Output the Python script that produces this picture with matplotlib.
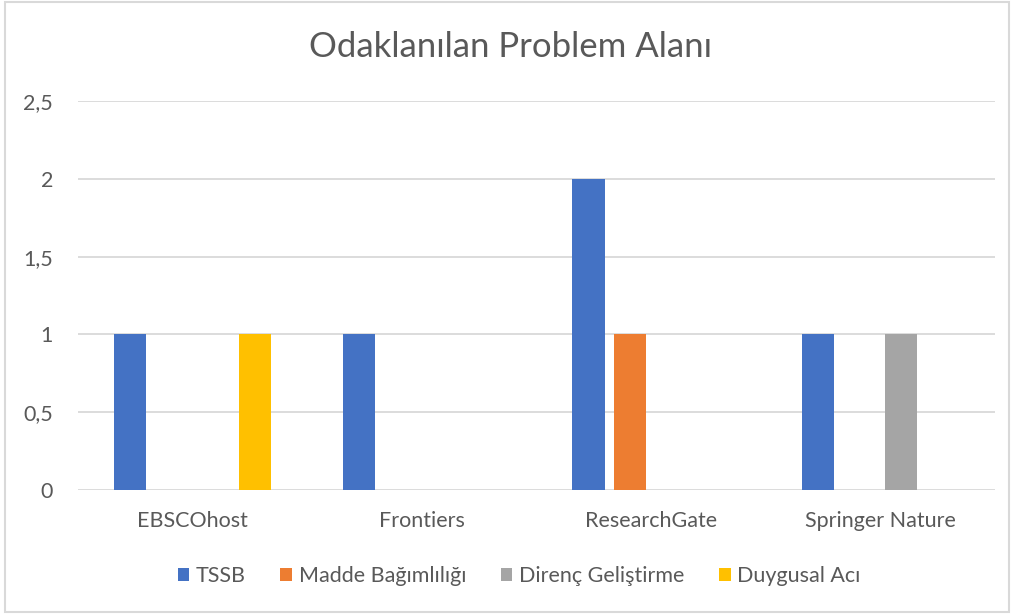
import matplotlib
matplotlib.use("Agg")
import matplotlib.pyplot as plt
from matplotlib.patches import Rectangle, Patch
import numpy as np

categories = ["EBSCOhost", "Frontiers", "ResearchGate", "Springer Nature"]
series_names = ["TSSB", "Madde Bağımlılığı", "Direnç Geliştirme", "Duygusal Acı"]
tssb = [1, 1, 2, 1]
madde = [0, 0, 1, 0]
direnc = [0, 0, 0, 1]
duygusal = [1, 0, 0, 0]
colors = ["#4472C4", "#ED7D31", "#A5A5A5", "#FFC000"]
yticks = [0, 0.5, 1, 1.5, 2, 2.5]
ytick_labels = ["0", "0,5", "1", "1,5", "2", "2,5"]
title = "Odaklanılan Problem Alanı"

plt.rcParams['font.family'] = ['Lato', 'DejaVu Sans']
text_color = "#595959"

fig = plt.figure(figsize=(10.15, 6.16), dpi=100)
ax = fig.add_axes([78/1015, (616-490)/616, (995-78)/1015, (490-101)/616])

x = np.arange(len(categories))
spacing = 0.182
width = 0.14
all_series = [tssb, madde, direnc, duygusal]
for i, (vals, c) in enumerate(zip(all_series, colors)):
    ax.bar(x + (i - 1.5) * spacing, vals, width=width, color=c, zorder=3)

ax.set_xlim(-0.5, len(categories) - 0.5)
ax.set_ylim(0, 2.5)
ax.set_yticks(yticks)
ax.set_yticklabels(ytick_labels)
ax.set_xticks(x)
ax.set_xticklabels(categories)
ax.grid(axis='y', color="#D9D9D9", linewidth=1.3, zorder=0)
for s in ["top", "right", "left", "bottom"]:
    ax.spines[s].set_visible(False)
ax.tick_params(axis='both', length=0, labelsize=15.5, colors=text_color)
ax.tick_params(axis='y', pad=18)
ax.tick_params(axis='x', pad=15)

fig.text(510/1015, 1 - 47/616, title, ha='center', va='center', fontsize=25, color=text_color)

handles = [Patch(facecolor=c, edgecolor='none') for c in colors]
fig.legend(handles, series_names, loc='center', bbox_to_anchor=(519/1015, 1 - 576/616),
           ncol=4, frameon=False, fontsize=15.5, handlelength=0.55, handleheight=0.55,
           handletextpad=0.3, columnspacing=1.6, labelcolor=text_color)

fig.patches.append(Rectangle((5/1015, 1 - 612/616), 1004/1015, 610/616,
                             transform=fig.transFigure, fill=False,
                             edgecolor="#D9D9D9", linewidth=1.5))

fig.savefig("out.png", dpi=100, facecolor="white")
